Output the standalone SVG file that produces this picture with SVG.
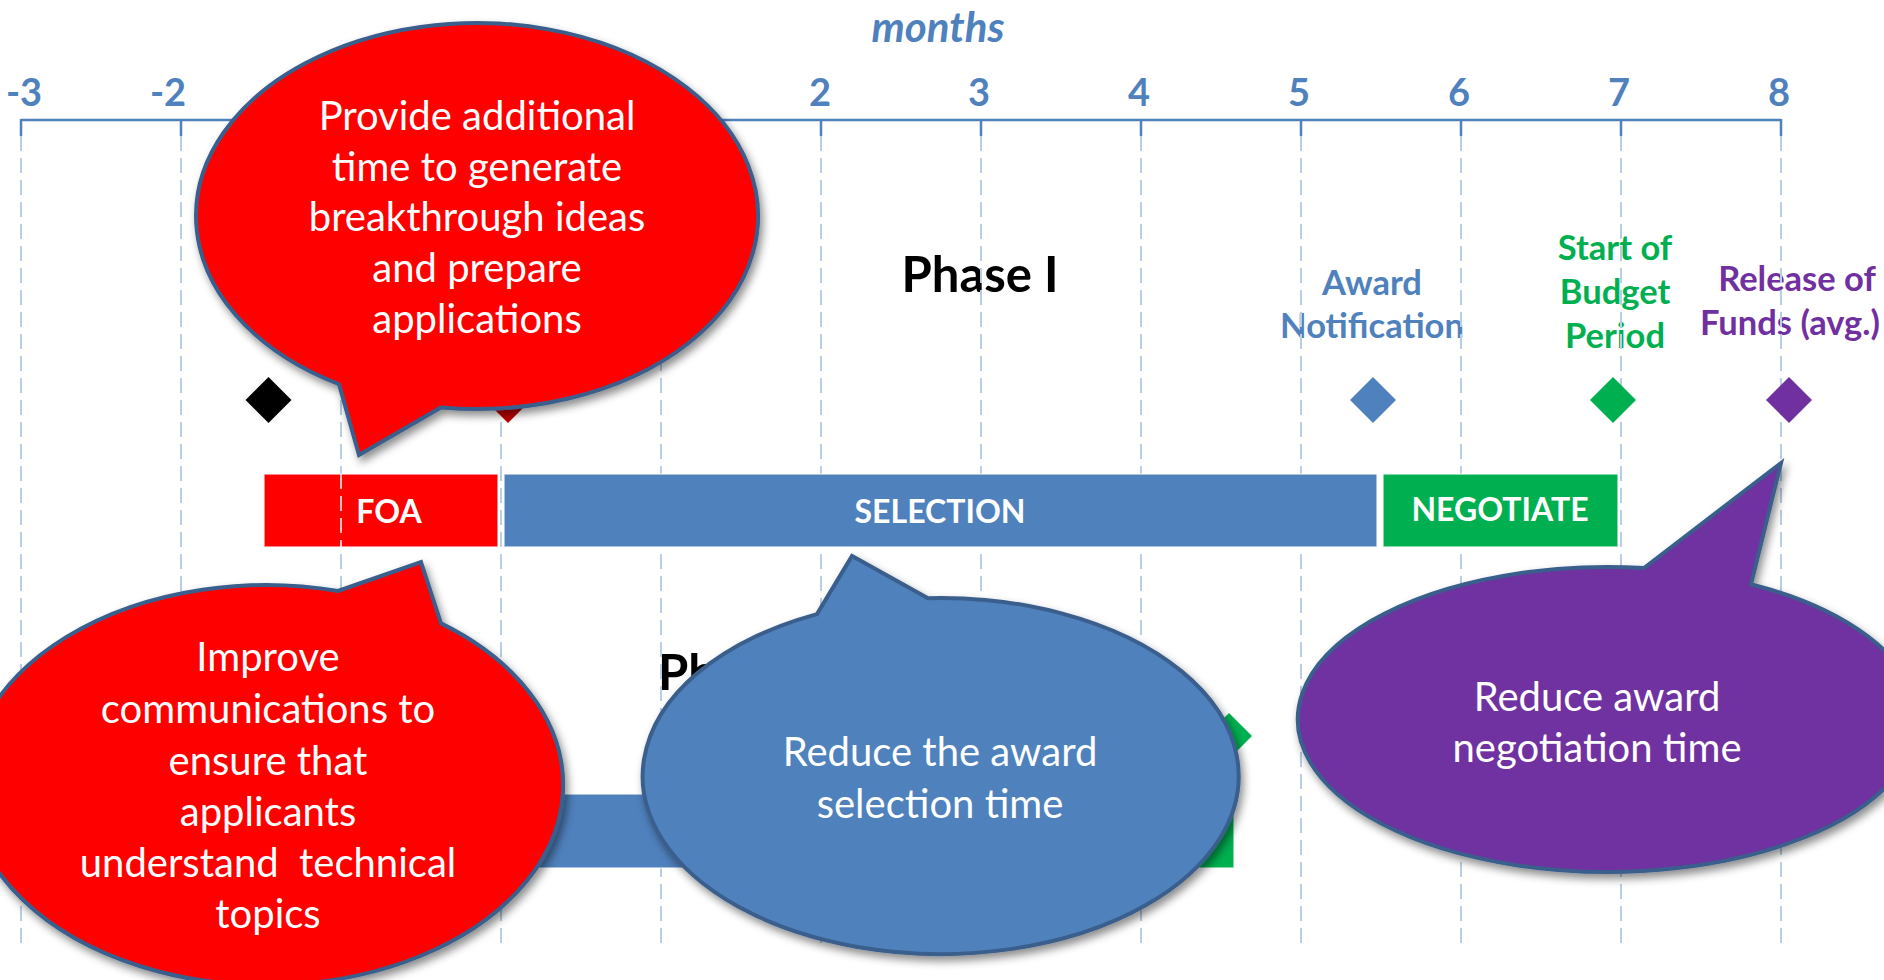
<svg xmlns="http://www.w3.org/2000/svg" width="1884" height="980" viewBox="0 0 1884 980">
<defs>
<style>
text{font-family:Lato,"Open Sans","Liberation Sans",sans-serif}
.tick{font-size:38px;font-weight:bold;fill:#4F81BD;text-anchor:middle}
.grid{stroke:#B9CDE5;stroke-width:2;stroke-dasharray:15 7;fill:none}
.tk{stroke:#4F81BD;stroke-width:2.5}
.ms{font-size:34.5px;font-weight:bold;text-anchor:middle}
.bar{stroke:#FFFFFF;stroke-width:1.5;stroke-opacity:0.7}
.barlbl{font-size:32px;font-weight:bold;fill:#FFFFFF;text-anchor:middle}
.phase{font-size:49px;font-weight:bold;fill:#000000}
.call{stroke:#3A5F8C;stroke-width:4;stroke-linejoin:miter;filter:url(#sh)}
.ct{font-size:40px;fill:#FFFFFF;text-anchor:middle}
</style>
<filter id="sh" x="-10%" y="-10%" width="130%" height="130%">
<feDropShadow dx="3" dy="5" stdDeviation="4" flood-color="#000000" flood-opacity="0.45"/>
</filter>
</defs>
<rect width="1884" height="980" fill="#FFFFFF"/>

<g id="labels-behind">
<text x="980" y="292" class="phase" text-anchor="middle">Phase I</text>
<text x="658" y="690" class="phase">Ph</text>
<text class="ms" fill="#4F81BD"><tspan x="1372" y="295">Award</tspan><tspan x="1372" y="338">Notification</tspan></text>
<text class="ms" fill="#00B050"><tspan x="1615" y="260">Start of</tspan><tspan x="1615" y="304">Budget</tspan><tspan x="1615" y="348">Period</tspan></text>
<text class="ms" fill="#7030A0"><tspan x="1797" y="291">Release of</tspan><tspan x="1790" y="335">Funds (avg.)</tspan></text>
</g>

<g id="axis">
<text x="938" y="42" font-size="42" font-weight="bold" font-style="italic" fill="#4F81BD" text-anchor="middle">months</text>
<text x="24" y="106" class="tick">-3</text>
<text x="168" y="106" class="tick">-2</text>
<text x="820" y="106" class="tick">2</text>
<text x="979" y="106" class="tick">3</text>
<text x="1139" y="106" class="tick">4</text>
<text x="1299" y="106" class="tick">5</text>
<text x="1459" y="106" class="tick">6</text>
<text x="1619" y="106" class="tick">7</text>
<text x="1779" y="106" class="tick">8</text>
<g id="connectors">
<path class="grid" d="M21 136V950M181 136V950M341 136V950M501 136V950M661 136V950M821 136V950M981 136V950M1141 136V950M1301 136V950M1461 136V950M1621 136V950M1781 136V950"/>
<path class="tk" fill="none" d="M21 120H1781M21 119V136M181 119V136M341 119V136M501 119V136M661 119V136M821 119V136M981 119V136M1141 119V136M1301 119V136M1461 119V136M1621 119V136M1781 119V136"/>
</g>
</g>

<g id="milestones">
<path d="M268.5 377L291.5 400L268.5 423L245.5 400Z" fill="#000000"/>
<path d="M508 377L531 400L508 423L485 400Z" fill="#C00000"/>
<path d="M1373 377L1396 400L1373 423L1350 400Z" fill="#4F81BD"/>
<path d="M1613 377L1636 400L1613 423L1590 400Z" fill="#00B050"/>
<path d="M1789 377L1812 400L1789 423L1766 400Z" fill="#7030A0"/>
<path d="M1229 713L1252 736L1229 759L1206 736Z" fill="#00B050"/>
</g>

<g id="bar-foa">
<rect x="264" y="474" width="234" height="73" fill="#FF0000" class="bar"/>
<line x1="341" y1="474" x2="341" y2="547" stroke="#FFFFFF" stroke-opacity="0.75" stroke-width="2" stroke-dasharray="15 7"/>
<text x="389" y="523" class="barlbl">FOA</text>
</g>
<g id="bar-selection">
<rect x="504" y="474" width="873" height="73" fill="#4F81BD" class="bar"/>
<text x="940" y="523" class="barlbl">SELECTION</text>
</g>
<g id="bar-negotiate">
<rect x="1383" y="474" width="235" height="73" fill="#00B050" class="bar"/>
<text x="1500" y="521" class="barlbl">NEGOTIATE</text>
</g>
<g id="bar2-selection">
<rect x="504" y="794" width="500" height="74" fill="#4F81BD" class="bar"/>
</g>
<g id="bar2-negotiate">
<rect x="1008" y="794" width="226" height="74" fill="#00B050" class="bar"/>
</g>

<g id="callout-time">
<path class="call" fill="#FF0000" d="M339 384.1L359 455L441 407.4A281 193 0 1 0 339 384.1Z"/>
<text class="ct"><tspan x="477" y="130">Provide additional</tspan><tspan x="477" y="181">time to generate</tspan><tspan x="477" y="231">breakthrough ideas</tspan><tspan x="477" y="282">and prepare</tspan><tspan x="477" y="333">applications</tspan></text>
</g>

<g id="callout-communications">
<path class="call" fill="#FF0000" d="M338 591L421 562L441 623.4A297 200 0 1 1 338 591Z"/>
<text class="ct"><tspan x="268" y="671">Improve</tspan><tspan x="268" y="723">communications to</tspan><tspan x="268" y="775">ensure that</tspan><tspan x="268" y="826">applicants</tspan><tspan x="268" y="877" xml:space="preserve">understand  technical</tspan><tspan x="268" y="928">topics</tspan></text>
</g>

<g id="callout-selection">
<path class="call" fill="#4F81BD" d="M817 614.1L852 556L928 598.2A298 178 0 1 1 817 614.1Z"/>
<text class="ct"><tspan x="940" y="766">Reduce the award</tspan><tspan x="940" y="818">selection time</tspan></text>
</g>

<g id="callout-negotiation">
<path class="call" fill="#7030A0" d="M1644 568L1781 463L1751 584.2A310 152.5 0 1 1 1644 568Z"/>
<text class="ct"><tspan x="1597" y="711">Reduce award</tspan><tspan x="1597" y="762">negotiation time</tspan></text>
</g>
</svg>
